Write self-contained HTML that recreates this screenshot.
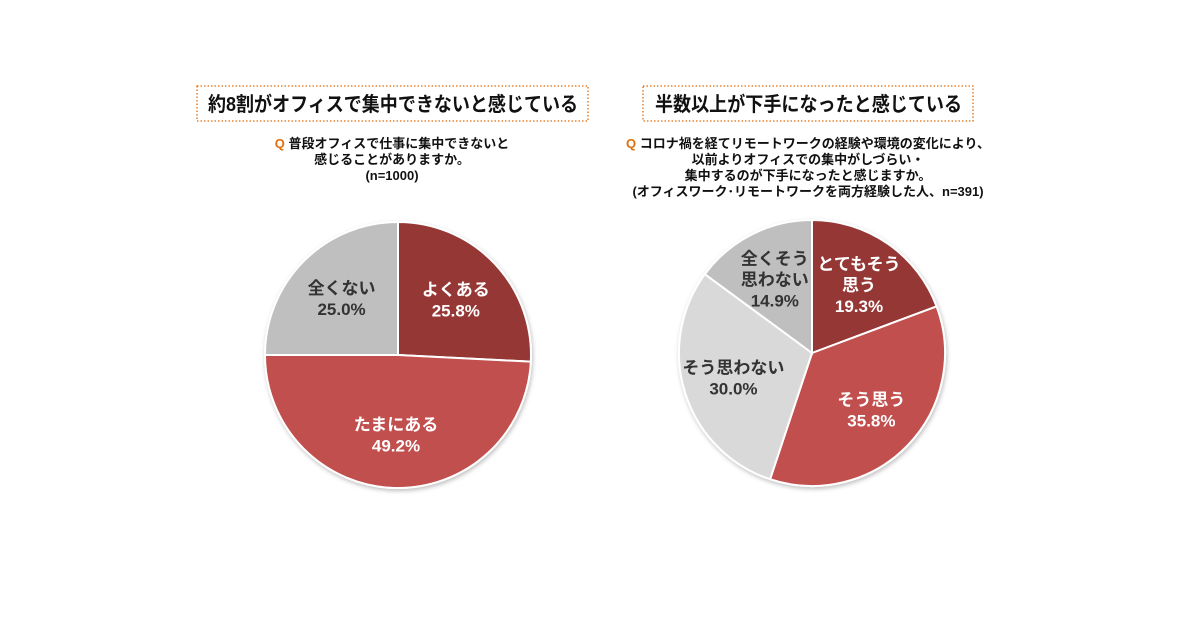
<!DOCTYPE html>
<html><head><meta charset="utf-8"><style>
body{margin:0;width:1200px;height:630px;background:#fff;overflow:hidden;font-family:"Liberation Sans","Noto Sans CJK JP",sans-serif;}
svg text{font-family:"Liberation Sans","Noto Sans CJK JP",sans-serif;font-weight:bold;}
</style></head><body>
<svg id="c" width="1200" height="630">
<defs><filter id="sh" x="-10%" y="-10%" width="120%" height="120%"><feDropShadow dx="1" dy="2" stdDeviation="2" flood-color="#000" flood-opacity="0.25"/></filter></defs>
<rect x="197" y="86" width="391" height="35" fill="none" stroke="#E46C0A" stroke-width="1.3" stroke-dasharray="1.5,2"/>
<text x="208" y="111" font-size="20" fill="#111" textLength="370" lengthAdjust="spacingAndGlyphs">約8割がオフィスで集中できないと感じている</text>
<text x="392" y="148" text-anchor="middle" font-size="13" fill="#111"><tspan fill="#E46C0A">Q</tspan> 普段オフィスで仕事に集中できないと</text>
<text x="392" y="164" text-anchor="middle" font-size="13" fill="#111">感じることがありますか。</text>
<text x="392" y="180" text-anchor="middle" font-size="13" fill="#111">(n=1000)</text>
<rect x="643" y="86" width="330" height="35" fill="none" stroke="#E46C0A" stroke-width="1.3" stroke-dasharray="1.5,2"/>
<text x="655" y="111" font-size="20" fill="#111" textLength="307" lengthAdjust="spacingAndGlyphs">半数以上が下手になったと感じている</text>
<text x="808" y="148" text-anchor="middle" font-size="13" fill="#111"><tspan fill="#E46C0A">Q</tspan> コロナ禍を経てリモートワークの経験や環境の変化により、</text>
<text x="808" y="164" text-anchor="middle" font-size="13" fill="#111">以前よりオフィスでの集中がしづらい・</text>
<text x="808" y="180" text-anchor="middle" font-size="13" fill="#111">集中するのが下手になったと感じますか。</text>
<text x="808" y="196" text-anchor="middle" font-size="13" fill="#111">(オフィスワーク･リモートワークを両方経験した人、n=391)</text>
</svg>
<script>
const leftLabels=["よくある","たまにある","全くない"];
const leftValues=[25.8,49.2,25.0];
const leftColors=["#953735","#C0504D","#BFBFBF"];
const rightLabels=["とてもそう\n思う","そう思う","そう思わない","全くそう\n思わない"];
const rightValues=[19.3,35.8,30.0,14.9];
const rightColors=["#953735","#C0504D","#D9D9D9","#BFBFBF"];
const NS="http://www.w3.org/2000/svg";
const svg=document.getElementById('c');
function pie(cx,cy,r,labels,values,colors,name,lrf){
  const g=document.createElementNS(NS,'g');
  
  
  g.setAttribute('filter','url(#sh)');
  svg.appendChild(g);
  const tot=values.reduce((a,b)=>a+b,0);
  let a0=0;
  const lg=document.createElementNS(NS,'g');
  values.forEach((v,i)=>{
    const a1=a0+v/tot*2*Math.PI;
    const x0=cx+r*Math.sin(a0),y0=cy-r*Math.cos(a0),x1=cx+r*Math.sin(a1),y1=cy-r*Math.cos(a1);
    const p=document.createElementNS(NS,'path');
    p.setAttribute('d',`M${cx},${cy}L${x0},${y0}A${r},${r} 0 ${a1-a0>Math.PI?1:0} 1 ${x1},${y1}Z`);
    p.setAttribute('fill',colors[i]);p.setAttribute('stroke','#fff');p.setAttribute('stroke-width','2');
    
    
    g.appendChild(p);
    const am=(a0+a1)/2,lr=r*lrf;
    const lx=cx+lr*Math.sin(am),ly=cy-lr*Math.cos(am);
    const lines=labels[i].split("\n").concat([v.toFixed(1)+"%"]);
    const t=document.createElementNS(NS,'text');
    
    
    t.setAttribute('text-anchor','middle');t.setAttribute('font-size','17');
    t.setAttribute('fill',i<2?'#fff':'#333');
    lines.forEach((s,k)=>{const ts=document.createElementNS(NS,'tspan');ts.setAttribute('x',lx);ts.setAttribute('y',ly+6+(k-(lines.length-1)/2)*21);ts.textContent=s;t.appendChild(ts);});
    lg.appendChild(t);
    a0=a1;
  });
  svg.appendChild(lg);
}
pie(398,355,133,leftLabels,leftValues,leftColors,'left-pie',0.6);
pie(812,353,133,rightLabels,rightValues,rightColors,'right-pie',0.62);
</script>
</body></html>
